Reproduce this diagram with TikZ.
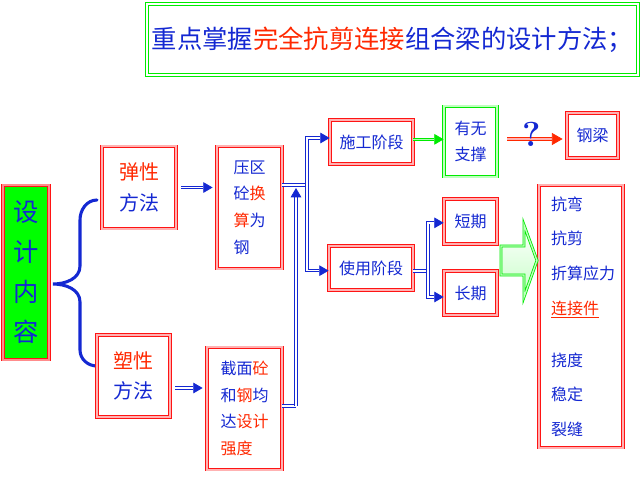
\documentclass[tikz,border=0pt]{standalone}
\usepackage{fontspec}
\newfontfamily\cjk{Noto Sans CJK SC}
\usetikzlibrary{arrows.meta}
\definecolor{tb}{RGB}{20,40,210}
\definecolor{tr}{RGB}{255,40,0}
\definecolor{gr}{RGB}{0,235,0}
\definecolor{rb}{RGB}{255,20,20}
\newcommand\rd[1]{\textcolor{tr}{#1}}
\begin{document}
\begin{tikzpicture}[x=0.75pt,y=-0.75pt,
  rbox/.style={draw=rb, double=red!30, line width=0.6pt, double distance=1.2pt, fill=white, inner sep=0pt, text=tb, font=\cjk\fontsize{12}{20}\selectfont},
  gbox/.style={draw=gr, double=green!25, line width=0.6pt, double distance=1.2pt, fill=white, inner sep=0pt, text=tb, font=\cjk\fontsize{12}{19}\selectfont},
  bline/.style={draw=tb, double=white, line width=0.6pt, double distance=1.2pt},
  barrow/.style={bline, -{Triangle[length=7pt,width=8pt]}},
  garrow/.style={draw=gr, double=green!30, line width=0.6pt, double distance=1.2pt, -{Triangle[length=7pt,width=8pt]}},
  rarrow/.style={draw=tr, double=red!30, line width=0.6pt, double distance=1.2pt, -{Triangle[length=8pt,width=9pt]}},
]
\useasboundingbox (0,0) rectangle (640,480);
\fill[white] (0,0) rectangle (640,480);

% title
\node[draw=gr, double=white, line width=0.8pt, double distance=1.8pt, minimum width=368pt, minimum height=53pt, inner sep=0pt, text=tb, font=\cjk\fontsize{19}{19}\selectfont] (title) at (392.5,39.5) {重点掌握\rd{完全抗剪连接}组合梁的设计方法；};

% left box
\node[rbox, double=red!45, fill=green, minimum width=34.5pt, minimum height=131pt, align=center, font=\cjk\fontsize{19}{30}\selectfont] (design) at (26,272.5) {设\\计\\内\\容};

% brace
\draw[tb, line width=2.3pt, line cap=round] (97,200) to[out=180,in=90] (80,220) -- (80,266) to[out=-90,in=0] (53,284) to[out=0,in=90] (80,302) -- (80,350) to[out=-90,in=180] (97,366);

% methods
\node[rbox, minimum width=55.5pt, minimum height=62pt, align=center, font=\cjk\fontsize{15}{23}\selectfont] (tanxing) at (139,187.5) {\rd{弹性}\\方法};
\node[rbox, minimum width=54.75pt, minimum height=61.5pt, align=center, font=\cjk\fontsize{15}{23}\selectfont] (suxing) at (133.5,376) {\rd{塑性}\\方法};

\node[rbox, minimum width=48.75pt, minimum height=92pt, align=left] (yaqu) at (249.5,207.5) {压区\\砼\rd{换}\\\rd{算}为\\钢};
\node[rbox, minimum width=56.25pt, minimum height=92pt, align=left] (jiemian) at (244.5,408.5) {截面\rd{砼}\\和\rd{钢}均\\达\rd{设计}\\\rd{强度}};

% stages
\node[rbox, minimum width=62.25pt, minimum height=33pt] (shigong) at (371.5,142) {施工阶段};
\node[rbox, minimum width=63pt, minimum height=33pt] (shiyong) at (371,268) {使用阶段};
\node[gbox, minimum width=39.75pt, minimum height=53pt, align=center] (youwu) at (470.5,141.5) {有无\\支撑};
\node[rbox, minimum width=38.25pt, minimum height=33.75pt] (gangliang) at (592.5,135.5) {钢梁};
\node[rbox, minimum width=39.75pt, minimum height=33.75pt] (duanqi) at (470.5,221.5) {短期};
\node[rbox, minimum width=39.75pt, minimum height=33pt] (changqi) at (470.5,293) {长期};

% list
\node[rbox, minimum width=63pt, minimum height=197pt, inner xsep=9pt, text width=45pt, align=left, font=\cjk\fontsize{12}{26}\selectfont] (list) at (581,316.5) {抗弯\\抗剪\\折算应力\\\rd{\underline{连接件}}\\[13pt]挠度\\稳定\\裂缝};

% connectors
\draw[barrow, shorten <=3.5pt, shorten >=3pt] (tanxing.east) -- (tanxing.east -| yaqu.west);
\coordinate (js) at (0,388);
\draw[barrow, shorten <=3.5pt, shorten >=3pt] (suxing.east |- js) -- (jiemian.west |- js);

\coordinate (ja) at (307,185);
\draw[bline] (yaqu.east |- ja) -- (ja);
\draw[barrow] (ja) |- ([yshift=3pt]shigong.west);
\draw[barrow] (ja) |- ([yshift=-2pt]shiyong.west);

\coordinate (jb) at (296,406);
\coordinate (jc) at (296,188);
\draw[bline] (jiemian.east |- jb) -- (jb);
\draw[barrow] (jb) -- (jc);

\draw[garrow] ([yshift=2pt]shigong.east) -- ([yshift=2pt]shigong.east -| youwu.west);

\coordinate (q1) at (507,139);
\draw[rarrow, shorten >=3pt] (q1) -- (q1 -| gangliang.west);
\node[text=tb, font=\bfseries\fontsize{26}{26}\selectfont, inner sep=0pt] (qm) at (532,134) {?};

\coordinate (jd) at (428,271);
\draw[bline] (shiyong.east |- jd) -- (jd);
\draw[barrow] (jd) |- ([yshift=-1pt]duanqi.west);
\draw[barrow] (jd) |- ([yshift=-3pt]changqi.west);

% big hollow arrow
\draw[draw=gr, double=green!25, line width=0.6pt, double distance=1pt, line join=miter, top color=white, bottom color=green!22]
  (501,246) -- (524,246) -- (524,225) -- (537,260.5) -- (524,297) -- (524,275) -- (501,275) -- cycle;
\end{tikzpicture}
\end{document}
